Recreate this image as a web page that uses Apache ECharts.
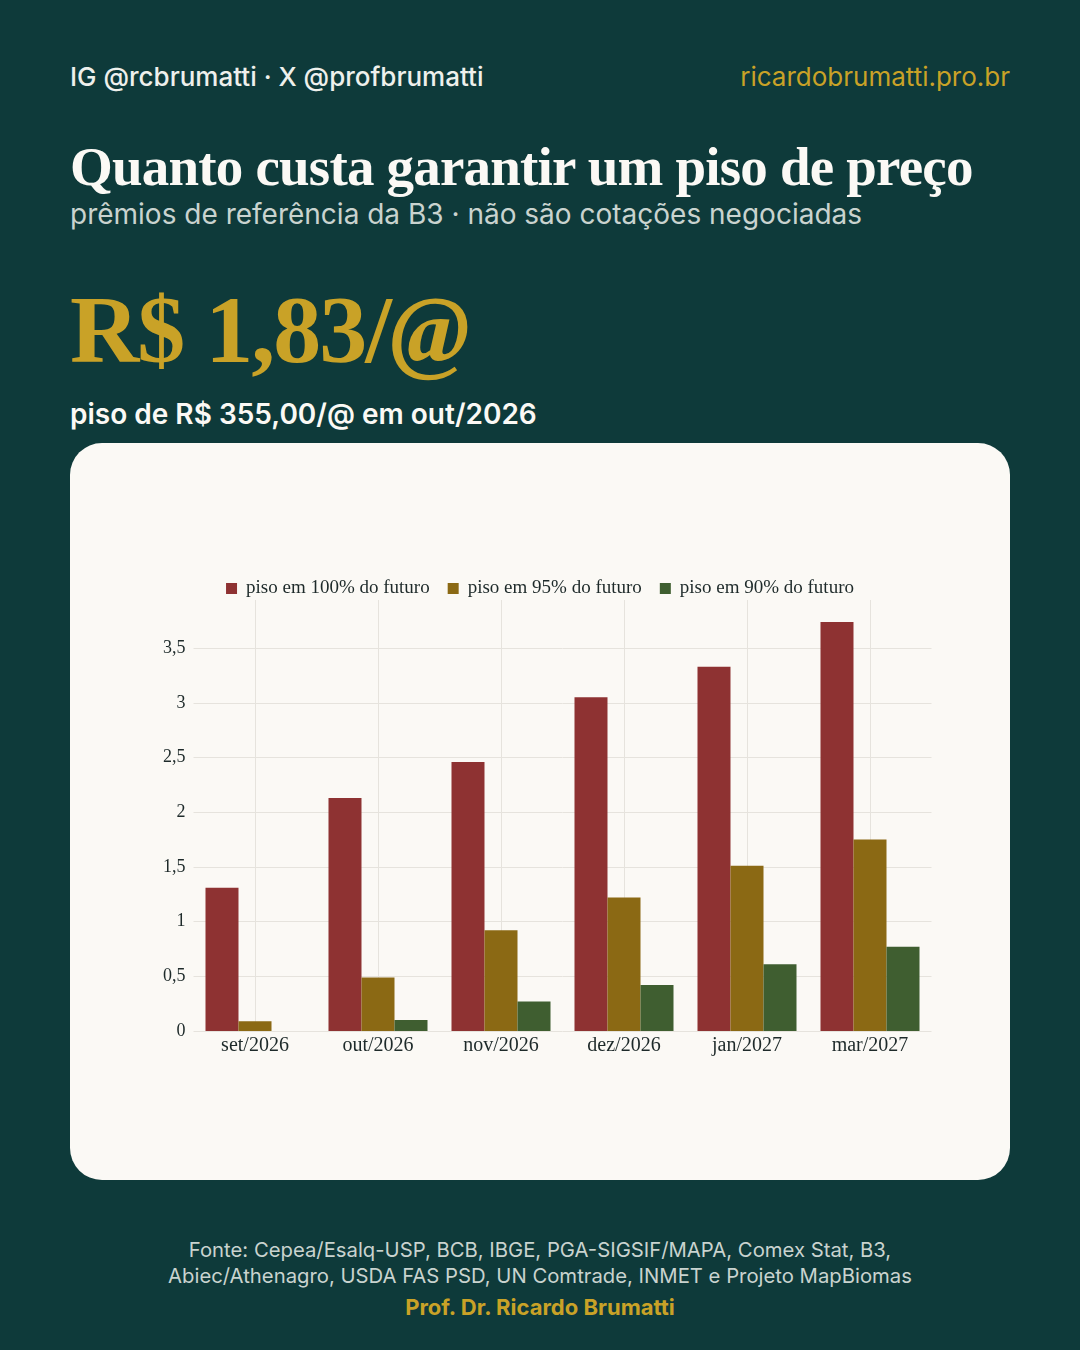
<!DOCTYPE html>
<html><head><meta charset="utf-8">
<script src="https://cdn.jsdelivr.net/npm/echarts@6/dist/echarts.min.js"></script>
<style>
html,body{margin:0;padding:0;width:1080px;height:1350px;background:#0e3a3a;overflow:hidden;font-family:Inter,sans-serif}
.t{position:absolute;white-space:nowrap}
#card{position:absolute;left:70px;top:443px;width:940px;height:737px;background:#fbf9f5;border-radius:32px}
#chart{position:absolute;left:70px;top:443px;width:940px;height:737px}
</style></head><body>
<div class="t" style="left:70px;top:61px;font-size:26px;font-weight:500;color:#eef0ec">IG @rcbrumatti · X @profbrumatti</div>
<div class="t" style="right:70px;top:61px;font-size:26px;color:#c9a227">ricardobrumatti.pro.br</div>
<div class="t" style="left:70px;top:135px;font-size:55px;font-weight:bold;color:#fbf9f5;font-family:'Liberation Serif',serif;letter-spacing:-0.8px">Quanto custa garantir um piso de preço</div>
<div class="t" style="left:70px;top:197px;font-size:28px;color:#c9d3cf">prêmios de referência da B3 · não são cotações negociadas</div>
<div class="t" style="left:70px;top:274px;font-size:96px;font-weight:bold;color:#c9a227;font-family:'Liberation Serif',serif;letter-spacing:-2px">R$ 1,83/<i>@</i></div>
<div class="t" style="left:70px;top:397px;font-size:28px;font-weight:600;color:#fbf9f5">piso de R$ 355,00/@ em out/2026</div>
<div id="card"></div>
<div id="chart"></div>
<div class="t" style="left:0;width:1080px;text-align:center;top:1237px;font-size:20.3px;line-height:26px;color:#c9d3cf">Fonte: Cepea/Esalq-USP, BCB, IBGE, PGA-SIGSIF/MAPA, Comex Stat, B3,<br>Abiec/Athenagro, USDA FAS PSD, UN Comtrade, INMET e Projeto MapBiomas</div>
<div class="t" style="left:0;width:1080px;text-align:center;top:1294px;font-size:22px;font-weight:bold;color:#c9a227">Prof. Dr. Ricardo Brumatti</div>
<script>
const categories=['set/2026','out/2026','nov/2026','dez/2026','jan/2027','mar/2027'];
const piso100=[1.31,2.13,2.46,3.05,3.33,3.74];
const piso95=[0.09,0.49,0.92,1.22,1.51,1.75];
const piso90=[0,0.10,0.27,0.42,0.61,0.77];
const names=['piso em 100% do futuro','piso em 95% do futuro','piso em 90% do futuro'];
const colors=['#8e3232','#8b6914','#3f5e30'];
const ff="'Liberation Serif','DejaVu Serif',serif";
const c=echarts.init(document.getElementById('chart'));
const bars=[piso100,piso95,piso90].map((d,i)=>({name:names[i],type:'bar',data:d,z:3,
   itemStyle:{color:colors[i]},barGap:'0%',barCategoryGap:'19.5%'}));
bars.push({type:'line',data:[],z:1,silent:true,
  markLine:{silent:true,z:1,symbol:'none',label:{show:false},
    lineStyle:{color:'#e6e3dd',type:'solid',width:1},
    data:categories.map(x=>({xAxis:x}))}});
c.setOption({
 animation:false,
 textStyle:{fontFamily:ff},
 legend:{top:131,left:'center',itemWidth:11,itemHeight:11,itemGap:18,icon:'rect',
   data:names,textStyle:{fontFamily:ff,fontSize:19,color:'#1e2a2a',padding:[0,0,0,4]}},
 grid:{left:123.5,right:78.5,top:157,bottom:149,containLabel:false},
 xAxis:{type:'category',data:categories,boundaryGap:true,
   axisLine:{show:false},axisTick:{show:false},splitLine:{show:false},
   axisLabel:{fontFamily:ff,fontSize:20,color:'#1e2a2a',margin:5}},
 yAxis:{type:'value',min:0,max:3.94,interval:0.5,
   axisLabel:{fontFamily:ff,fontSize:18,color:'#1e2a2a',showMaxLabel:false,margin:8,
     formatter:v=>String(v).replace('.',',')},
   splitLine:{show:true,showMaxLine:false,lineStyle:{color:'#e6e3dd'}},
   axisLine:{show:false},axisTick:{show:false}},
 series:bars
});
</script>
</body></html>
